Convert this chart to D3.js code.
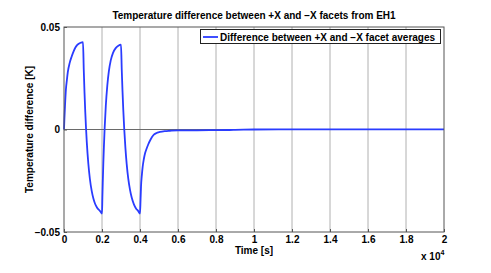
<!DOCTYPE html>
<html>
<head>
<meta charset="utf-8">
<script src="https://cdn.jsdelivr.net/npm/d3@7"></script>
<style>
  body { margin: 0; background: #fff; }
  text { font-family: "Liberation Sans", Arial, Helvetica, sans-serif; font-weight: bold; fill: #000; }
</style>
</head>
<body>
<script>
// time in seconds, difference in K
var timeS = [0, 20, 50, 100, 150, 200, 300, 400, 500, 600, 700, 800, 900, 1000,
  1040, 1080, 1120, 1160, 1200, 1280, 1360, 1460, 1550, 1630, 1750, 1900, 2000,
  2020, 2040, 2070, 2100, 2140, 2200, 2280, 2360, 2460, 2580, 2720, 2860, 3000,
  3040, 3080, 3120, 3170, 3230, 3300, 3384, 3470, 3563, 3680, 3790, 3900, 4000,
  4030, 4053, 4100, 4140, 4200, 4263, 4350, 4437, 4550, 4700, 4850, 5050, 5300,
  5580, 6000, 7000, 8000, 9000, 10000, 12000, 14000, 16000, 18000, 20000];
var diffK = [0, 0.005, 0.011, 0.0195, 0.024, 0.028, 0.0325, 0.0355, 0.038, 0.0400, 0.0413, 0.0420, 0.0424, 0.0426,
  0.0291, 0.0179, 0.0084, 0.0005, -0.0063, -0.0166, -0.0239, -0.0301, -0.0338, -0.0361, -0.0383, -0.0398, -0.041,
  -0.0331, -0.0260, -0.0165, -0.0084, 0.0008, 0.0115, 0.0215, 0.0283, 0.0337, 0.0374, 0.0397, 0.0409, 0.0414,
  0.0290, 0.0186, 0.0096, 0.0003, -0.0087, -0.0169, -0.0241, -0.0292, -0.0332, -0.0365, -0.0385, -0.0397, -0.041,
  -0.034, -0.028, -0.022, -0.0182, -0.0145, -0.0117, -0.0093, -0.0072, -0.005, -0.0028, -0.0018, -0.0012, -0.0008,
  -0.0006, -0.0004, -0.0004, -0.0003, -0.0002, 0, 0.0001, 0.0001, 0.0001, 0.0001, 0.0001];

var xTicks = [0, 2000, 4000, 6000, 8000, 10000, 12000, 14000, 16000, 18000, 20000];
var yTicks = [-0.05, 0, 0.05];

var titleText = "Temperature difference between +X and \u2212X facets from EH1";
var legendText = "Difference between +X and \u2212X facet averages";

var W = 491, H = 273;
var pl = 64, pr = 444, pt = 27, pb = 232;

var svg = d3.select("body").append("svg")
  .attr("width", W)
  .attr("height", H);

svg.append("rect").attr("width", W).attr("height", H).attr("fill", "#fff");

var x = d3.scaleLinear().domain([0, 20000]).range([pl, pr]);
var y = d3.scaleLinear().domain([-0.05, 0.05]).range([pb, pt]);

// grid
svg.append("g").selectAll("line")
  .data(xTicks.slice(1, -1))
  .enter().append("line")
  .attr("x1", d => x(d)).attr("x2", d => x(d))
  .attr("y1", pt).attr("y2", pb)
  .attr("stroke", "#b0b0b0").attr("stroke-width", 1);

svg.append("g").selectAll("line")
  .data(yTicks.slice(1, -1))
  .enter().append("line")
  .attr("x1", pl).attr("x2", pr)
  .attr("y1", d => y(d)).attr("y2", d => y(d))
  .attr("stroke", "#6a6a6a").attr("stroke-width", 1);

// the series
var pts = timeS.map((t, i) => [t, diffK[i]]);
var line = d3.line()
  .x(d => x(d[0]))
  .y(d => y(d[1]))
  .curve(d3.curveMonotoneX);

svg.append("path")
  .datum(pts)
  .attr("fill", "none")
  .attr("stroke", "#2a3cff")
  .attr("stroke-width", 1.8)
  .attr("stroke-linejoin", "round")
  .attr("d", line);

// axes frame
svg.append("rect")
  .attr("x", pl).attr("y", pt)
  .attr("width", pr - pl).attr("height", pb - pt)
  .attr("fill", "none").attr("stroke", "#555").attr("stroke-width", 1);

var fmtX = d => String(+(d / 1e4).toFixed(1));
var fmtY = d => d === 0 ? "0" : (d < 0 ? "\u2212" : "") + Math.abs(d).toFixed(2);

var xAxis = svg.append("g")
  .attr("transform", "translate(0," + pb + ")")
  .call(d3.axisBottom(x).tickValues(xTicks).tickFormat(fmtX).tickSizeInner(-3).tickSizeOuter(0).tickPadding(4));
xAxis.select(".domain").remove();
xAxis.selectAll("line").attr("stroke", "#555");
xAxis.selectAll("text").attr("font-size", 10).attr("font-family", null).attr("dy", "0.71em");

var yAxis = svg.append("g")
  .attr("transform", "translate(" + pl + ",0)")
  .call(d3.axisLeft(y).tickValues(yTicks).tickFormat(fmtY).tickSizeInner(-3).tickSizeOuter(0).tickPadding(4));
yAxis.select(".domain").remove();
yAxis.selectAll("line").attr("stroke", "#555");
yAxis.selectAll("text").attr("font-size", 10).attr("font-family", null);

// title and labels
svg.append("text")
  .attr("x", (pl + pr) / 2).attr("y", 19)
  .attr("text-anchor", "middle")
  .attr("font-size", 10)
  .text(titleText);

svg.append("text")
  .attr("x", (pl + pr) / 2).attr("y", 254)
  .attr("text-anchor", "middle")
  .attr("font-size", 10)
  .text("Time [s]");

svg.append("text")
  .attr("transform", "translate(33," + (pt + pb) / 2 + ") rotate(-90)")
  .attr("text-anchor", "middle")
  .attr("font-size", 10)
  .text("Temperature difference [K]");

var mult = svg.append("text")
  .attr("x", 421).attr("y", 260)
  .attr("font-size", 10);
mult.append("tspan").text("x 10");
mult.append("tspan").attr("dy", -5).attr("font-size", 7).text("4");

// legend
var lg = svg.append("g");
lg.append("rect")
  .attr("x", 200.5).attr("y", 29.5)
  .attr("width", 240).attr("height", 14)
  .attr("fill", "#fff").attr("stroke", "#222").attr("stroke-width", 1);
lg.append("line")
  .attr("x1", 203).attr("x2", 218).attr("y1", 37).attr("y2", 37)
  .attr("stroke", "#2a3cff").attr("stroke-width", 1.8);
lg.append("text")
  .attr("x", 220).attr("y", 40.5)
  .attr("font-size", 10)
  .text(legendText);
</script>
</body>
</html>
